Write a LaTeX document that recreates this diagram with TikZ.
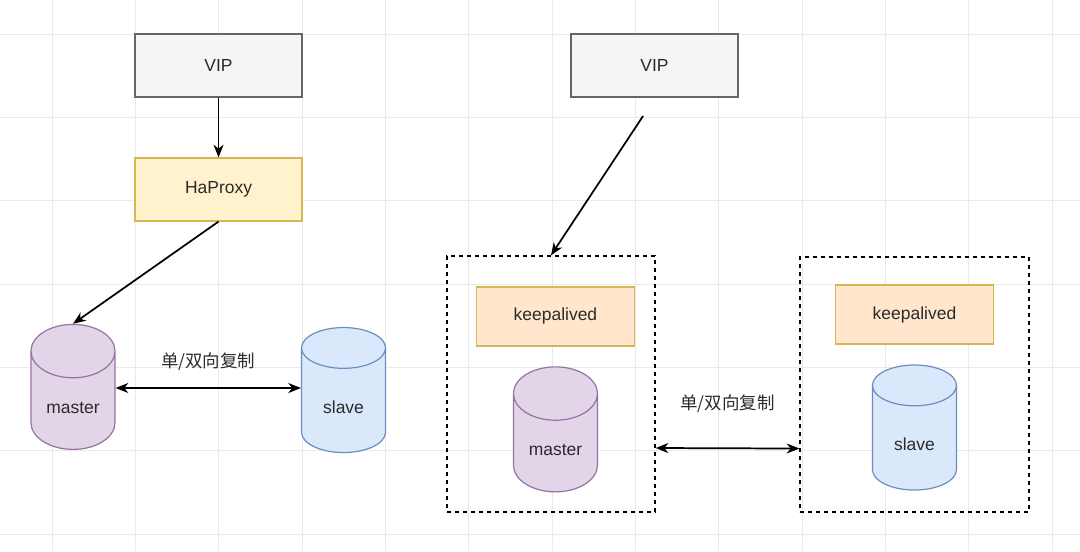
\documentclass[tikz,border=0pt]{standalone}
\usepackage{fontspec}
\setmainfont{Liberation Sans}
\newfontfamily\cjk{Noto Sans CJK SC}
\usepackage{tikz}
\usetikzlibrary{fit,shapes,arrows.meta,positioning}
\definecolor{gridgray}{HTML}{EAEAEA}
\definecolor{textgray}{HTML}{2B2B2B}
\definecolor{vipline}{HTML}{666666}
\definecolor{vipfill}{HTML}{F5F5F5}
\definecolor{yelline}{HTML}{D6B656}
\definecolor{proxyfill}{HTML}{FFF2CC}
\definecolor{keepfill}{HTML}{FFE6CC}
\definecolor{purpline}{HTML}{9673A6}
\definecolor{purpfill}{HTML}{E1D5E7}
\definecolor{blueline}{HTML}{6C8EBF}
\definecolor{bluefill}{HTML}{DAE8FC}
\tikzstyle{block} = [draw, rectangle, minimum height=47.25pt, minimum width=125.25pt, line width=0.9pt, text=textgray, font=\fontsize{13.1pt}{15pt}\selectfont]
\tikzstyle{vip} = [block, draw=vipline, fill=vipfill]
\tikzstyle{proxy} = [block, draw=yelline, fill=proxyfill]
\tikzstyle{keep} = [block, draw=yelline, fill=keepfill, minimum width=118pt, minimum height=44.25pt]
\tikzstyle{db} = [draw, cylinder, shape border rotate=90, aspect=1, inner sep=0, minimum width=63pt, minimum height=93.75pt, text height=19.2pt, text depth=0pt, line width=0.9pt, text=textgray, font=\fontsize{13.1pt}{15pt}\selectfont]
\tikzstyle{master} = [db, draw=purpline, fill=purpfill]
\tikzstyle{slave} = [db, draw=blueline, fill=bluefill]
\tikzstyle{group} = [draw, rectangle, line width=1pt, dash pattern=on 3pt off 3pt]
\tikzstyle{wire} = [->, line width=1.3pt]
\tikzstyle{link} = [<->, line width=1.3pt]
\tikzstyle{label} = [text=textgray, font=\cjk\fontsize{13.1pt}{16pt}\selectfont]

\begin{document}
\begin{tikzpicture}[node distance=93pt, >={Stealth[length=9.5pt,width=7.5pt,inset=3pt]}]
	  \useasboundingbox (0,0) rectangle (810pt,-413.25pt);
	  \fill [white] (0,0) rectangle (810pt,-413.25pt);
	  \foreach \x in {0,...,12}
	    \draw [gridgray, line width=0.75pt] ({39pt+\x*62.5pt},0) -- ++(0,-413.25pt);
	  \foreach \y in {0,...,6}
	    \draw [gridgray, line width=0.75pt] (0,{-25.5pt-\y*62.5pt}) -- ++(810pt,0);

	  % HaProxy side
	  \node [vip] (vipL) at (163.9pt,-49.1pt) {VIP};
	  \node [proxy, below of=vipL] (proxy) {HaProxy};
	  \node [master] (masterL) at (54.75pt,-300.4pt) {master};
	  \node [slave, right of=masterL, node distance=202.9pt] (slaveL) {slave};

	  % keepalived side
	  \node [vip, right of=vipL, node distance=327pt] (vipR) {VIP};
	  \coordinate (vipRout) at ([xshift=-8.6pt, yshift=-37.9pt]vipR.center);
	  \node [group, minimum width=156pt, minimum height=192pt] (boxL) at (413.25pt,-288pt) {};
	  \node [master] (masterR) at (416.6pt,-332.25pt) {master};
	  \node [keep, above of=masterR, node distance=94.9pt] (keepL) {keepalived};
	  \node [group, minimum width=171.75pt, minimum height=191.25pt] (boxR) at (685.9pt,-288.4pt) {};
	  \node [slave, right of=masterR, node distance=269.25pt, yshift=3.75pt] (slaveR) {slave};
	  \node [keep, above of=slaveR, node distance=92.6pt] (keepR) {keepalived};

	  \draw [wire] (vipL) -- (proxy);
	  \draw [wire] (proxy.south) -- (masterL.north);
	  \draw [link] ([yshift=9.4pt]masterL.east) -- node [label, yshift=19.5pt] (repL) {单/双向复制} ([yshift=9.4pt]slaveL.west);
	  \draw [wire] (vipRout) -- (boxL.north);
	  \draw [link] ([yshift=-48pt]boxL.east) -- node [label, yshift=33.75pt] (repR) {单/双向复制} ([yshift=-48pt]boxR.west);
	\end{tikzpicture}
\end{document}
